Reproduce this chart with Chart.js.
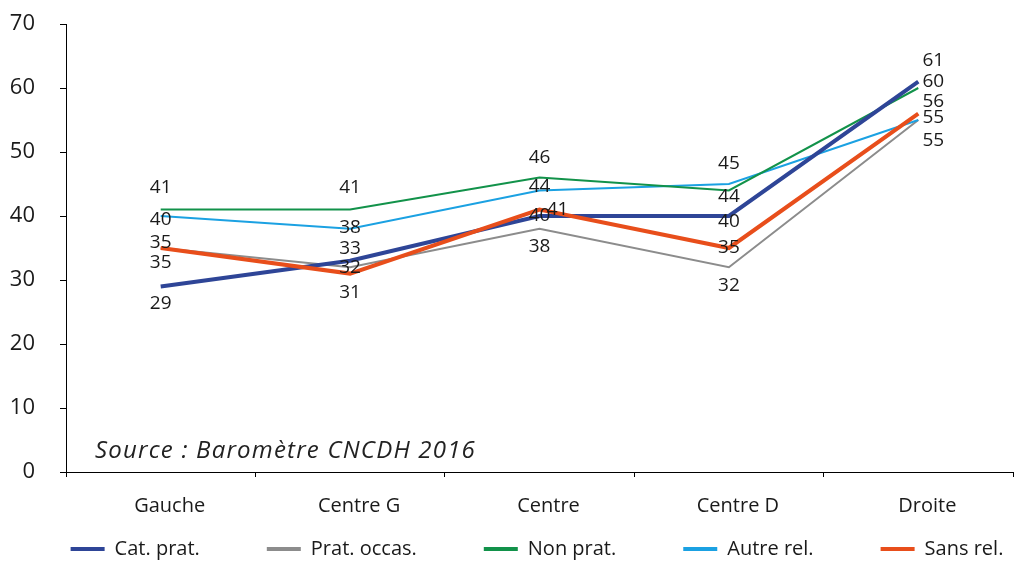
<!DOCTYPE html>
<html><head><meta charset="utf-8">
<script src="https://cdn.jsdelivr.net/npm/chart.js@4.4.1/dist/chart.umd.min.js"></script>
<style>html,body{margin:0;padding:0;background:#fff;overflow:hidden;}</style>
</head><body>
<canvas id="c" width="1017" height="562" style="display:block;width:1017px;height:562px"></canvas>
<script>
const categories = ['Gauche', 'Centre G', 'Centre', 'Centre D', 'Droite'];
const seriesNames = ['Cat. prat.', 'Prat. occas.', 'Non prat.', 'Autre rel.', 'Sans rel.'];
const catPrat   = [29, 33, 40, 40, 61];
const pratOccas = [35, 32, 38, 32, 55];
const nonPrat   = [41, 41, 46, 44, 60];
const autreRel  = [40, 38, 44, 45, 55];
const sansRel   = [35, 31, 41, 35, 56];
const yTickValues = [0, 10, 20, 30, 40, 50, 60, 70];
const sourceText = 'Source : Baromètre CNCDH 2016';

const colors = ['#2E4597', '#8C8C8C', '#12924A', '#1BA1E2', '#E84E1B'];
const widths = [4, 2, 2, 2, 4];
const drawOrder = [1, 4, 2, 3, 0];
// label offsets (dx, dy) relative to the point, per series / category
const labelOffsets = [
  [[0,17],[0,-12],[0,0],[0,6],[15,-21]],
  [[0,-5],[0,0],[0,18],[0,18],[15,21]],
  [[0,-22],[0,-22],[0,-20],[0,6],[15,-6]],
  [[0,4],[0,-1],[0,-4],[0,-20],[15,-2]],
  [[0,15],[0,19],[18,0],[0,0],[15,-12]]
];

const seriesValues = [catPrat, pratOccas, nonPrat, autreRel, sansRel];
const datasets = seriesValues.map((vals, i) => ({
  label: seriesNames[i],
  data: vals,
  borderColor: colors[i],
  backgroundColor: colors[i],
  borderWidth: widths[i],
  pointRadius: 0,
  pointHoverRadius: 0,
  tension: 0,
  fill: false,
  order: drawOrder[i]
}));

const labelPlugin = {
  id: 'valueLabels',
  afterDatasetsDraw(chart) {
    const ctx = chart.ctx;
    ctx.save();
    ctx.font = '19px "Open Sans"';
    ctx.fillStyle = '#1a1a1a';
    ctx.textAlign = 'center';
    ctx.textBaseline = 'middle';
    chart.data.datasets.forEach((ds, i) => {
      const meta = chart.getDatasetMeta(i);
      meta.data.forEach((pt, j) => {
        const off = labelOffsets[i][j];
        ctx.fillText(String(ds.data[j]), pt.x + off[0], pt.y + off[1]);
      });
    });
    ctx.restore();
  }
};

const sourcePlugin = {
  id: 'sourceNote',
  afterDraw(chart) {
    const ctx = chart.ctx;
    ctx.save();
    ctx.font = 'italic 24px "Open Sans"';
    try { ctx.letterSpacing = '1.2px'; } catch (e) {}
    ctx.fillStyle = '#222';
    ctx.textAlign = 'left';
    ctx.textBaseline = 'alphabetic';
    ctx.fillText(sourceText, chart.chartArea.left + 29, chart.chartArea.bottom - 14);
    ctx.restore();
  }
};

// place the legend row just under the x-axis labels
const legendPlacer = {
  id: 'legendPlacer',
  afterLayout(chart) {
    const lg = chart.legend;
    if (!lg) return;
    const h = lg.height;
    lg.top = chart.chartArea.bottom;
    lg.bottom = lg.top + h;
  }
};

new Chart(document.getElementById('c'), {
  type: 'line',
  data: { labels: categories, datasets },
  plugins: [labelPlugin, sourcePlugin, legendPlacer],
  options: {
    responsive: false,
    animation: false,
    devicePixelRatio: 1,
    layout: { padding: { left: 0, right: -57, top: 24, bottom: -57 } },
    plugins: {
      tooltip: { enabled: false },
      title: { display: false },
      legend: {
        display: true,
        position: 'bottom',
        labels: {
          font: { family: 'Open Sans', size: 20 },
          color: '#1a1a1a',
          boxWidth: 34,
          boxHeight: 4,
          padding: 67,
          sort: (a, b) => a.datasetIndex - b.datasetIndex,
          generateLabels(chart) {
            const items = Chart.defaults.plugins.legend.labels.generateLabels(chart);
            items.forEach(it => { it.lineWidth = 0; it.fillStyle = colors[it.datasetIndex]; });
            return items;
          }
        }
      }
    },
    scales: {
      x: {
        offset: true,
        grid: { display: true, drawOnChartArea: false, drawTicks: true, tickLength: 5, offset: true, color: '#000' },
        border: { display: true, color: '#000', width: 1 },
        ticks: { font: { family: 'Open Sans', size: 20 }, color: '#1a1a1a', padding: 17, labelOffset: 9, maxRotation: 0 },
        afterFit(scale) { scale.height = 50; }
      },
      y: {
        min: 0, max: 70,
        afterBuildTicks(scale) { scale.ticks = yTickValues.map(v => ({ value: v })); },
        grid: { display: true, drawOnChartArea: false, drawTicks: true, tickLength: 6, color: '#000' },
        border: { display: true, color: '#000', width: 1 },
        ticks: { font: { family: 'Open Sans', size: 22 }, color: '#1a1a1a', padding: 25 },
        afterFit(scale) { scale.width = 66; scale.paddingTop = 0; scale.paddingBottom = 0; }
      },
      yRight: {
        position: 'right',
        display: true,
        grid: { display: false, drawTicks: false },
        border: { display: false },
        ticks: { display: false },
        afterFit(scale) { scale.width = 61; }
      }
    }
  }
});
</script>
</body></html>
